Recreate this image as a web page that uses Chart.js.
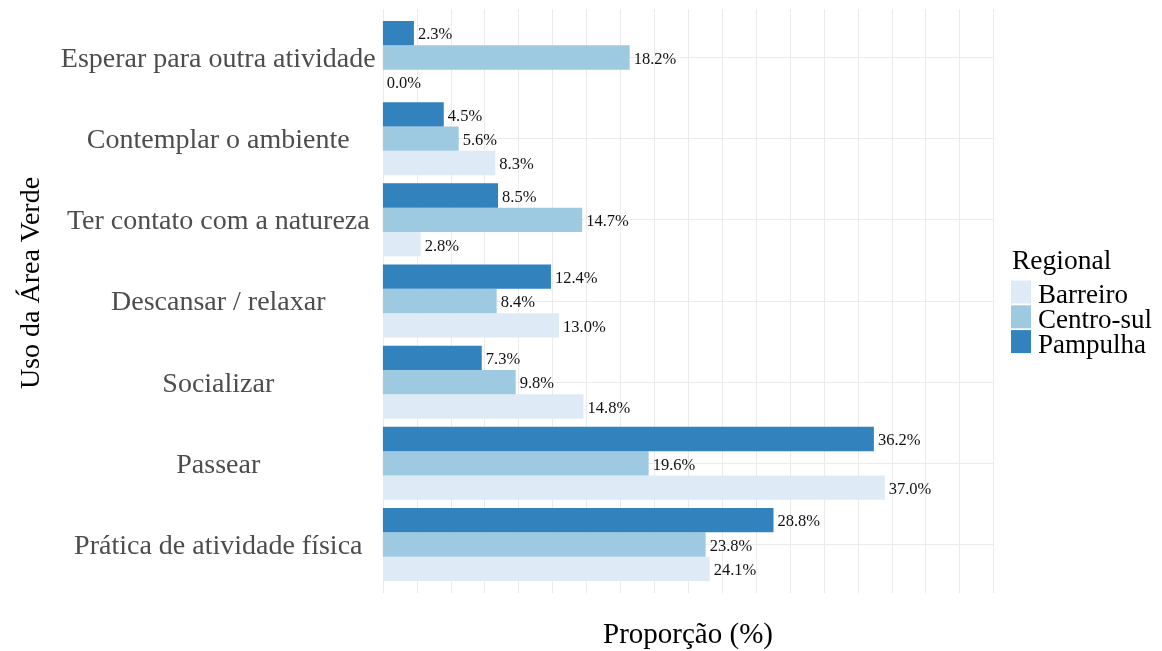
<!DOCTYPE html>
<html lang="pt">
<head>
	<meta charset="UTF-8">
	<title>Uso da Área Verde por Regional</title>
	<style>
		html, body { margin: 0; padding: 0; background: #fff; }
		#wrap { position: relative; width: 1162px; height: 651px; }
	</style>
</head>
<body>
	<div id="wrap"><canvas id="chartUso"></canvas></div>

	<script src="https://cdn.jsdelivr.net/npm/chart.js@4/dist/chart.umd.min.js"></script>
	<script>
		const categories = [
			"Esperar para outra atividade",
			"Contemplar o ambiente",
			"Ter contato com a natureza",
			"Descansar / relaxar",
			"Socializar",
			"Passear",
			"Prática de atividade física"
		];
		const pampulha = [2.3, 4.5, 8.5, 12.4, 7.3, 36.2, 28.8];
		const centroSul = [18.2, 5.6, 14.7, 8.4, 9.8, 19.6, 23.8];
		const barreiro = [0.0, 8.3, 2.8, 13.0, 14.8, 37.0, 24.1];
		const xTicks = { min: 0, max: 45, step: 2.5 };

		const serif = '"Liberation Serif", "DejaVu Serif", serif';

		// vertical grid, ggplot-style it runs a bit past the bars at top and bottom
		const vGrid = {
			id: "vGrid",
			beforeDatasetsDraw(chart) {
				const ctx = chart.ctx;
				const x = chart.scales.x;
				ctx.save();
				ctx.strokeStyle = "#ebebeb";
				ctx.lineWidth = 1;
				x.ticks.forEach(t => {
					const px = Math.round(x.getPixelForValue(t.value)) + 0.5;
					ctx.beginPath();
					ctx.moveTo(px, 9);
					ctx.lineTo(px, 593);
					ctx.stroke();
				});
				ctx.restore();
			}
		};

		// value labels, legend and axis titles
		const extras = {
			id: "extras",
			afterDatasetsDraw(chart) {
				const ctx = chart.ctx;
				ctx.save();
				ctx.font = "16.5px " + serif;
				ctx.fillStyle = "#111";
				ctx.textAlign = "left";
				ctx.textBaseline = "middle";
				chart.data.datasets.forEach((ds, i) => {
					chart.getDatasetMeta(i).data.forEach((bar, j) => {
						ctx.fillText(ds.data[j].toFixed(1) + "%", bar.x + 4, bar.y + 2);
					});
				});
				ctx.restore();
			},
			afterDraw(chart) {
				const ctx = chart.ctx;
				ctx.save();
				ctx.fillStyle = "#000";

				// y title
				ctx.font = "28px " + serif;
				ctx.textAlign = "center";
				ctx.textBaseline = "alphabetic";
				ctx.translate(39, 283);
				ctx.rotate(-Math.PI / 2);
				ctx.fillText("Uso da Área Verde", 0, 0);
				ctx.setTransform(1, 0, 0, 1, 0, 0);

				// x title
				ctx.font = "29px " + serif;
				const xs = chart.scales.x;
				ctx.fillText("Proporção (%)", (xs.left + xs.right) / 2, 643);

				// legend
				ctx.textAlign = "left";
				ctx.font = "27.5px " + serif;
				ctx.fillText("Regional", 1012, 269);
				ctx.font = "27px " + serif;
				const items = chart.data.datasets.slice().reverse();
				items.forEach((ds, k) => {
					const y = 280.5 + k * 24.8;
					ctx.fillStyle = ds.backgroundColor;
					ctx.fillRect(1011, y, 20, 23);
					ctx.fillStyle = "#000";
					ctx.fillText(ds.label, 1038, y + 22.5);
				});
				ctx.restore();
			}
		};

		new Chart("chartUso", {
			type: "bar",
			data: {
				labels: categories,
				datasets: [
					{ label: "Pampulha", data: pampulha, backgroundColor: "#3182bd" },
					{ label: "Centro-sul", data: centroSul, backgroundColor: "#9ecae1" },
					{ label: "Barreiro", data: barreiro, backgroundColor: "#deebf7" }
				]
			},
			options: {
				indexAxis: "y",
				responsive: true,
				maintainAspectRatio: false,
				animation: false,
				events: [],
				categoryPercentage: 0.9,
				barPercentage: 1.0,
				layout: { padding: { top: 16.9, right: 168.7, left: 0, bottom: 0 } },
				plugins: {
					legend: { display: false },
					tooltip: { enabled: false }
				},
				scales: {
					x: {
						min: xTicks.min,
						max: xTicks.max,
						ticks: { display: false, stepSize: xTicks.step },
						grid: { display: false },
						border: { display: false },
						afterFit(scale) {
							scale.height = 65.9;
							scale.paddingLeft = 0;
							scale.paddingRight = 0;
						}
					},
					y: {
						grid: { offset: false, color: "#ebebeb", drawTicks: false },
						border: { display: false },
						ticks: {
							crossAlign: "center",
							padding: 7,
							labelOffset: 2,
							color: "#4d4d4d",
							font: { family: serif, size: 28 }
						},
						afterFit(scale) {
							scale.width = 382.7;
							scale.paddingTop = 0;
							scale.paddingBottom = 0;
						}
					}
				}
			},
			plugins: [vGrid, extras]
		});
	</script>
</body>
</html>
